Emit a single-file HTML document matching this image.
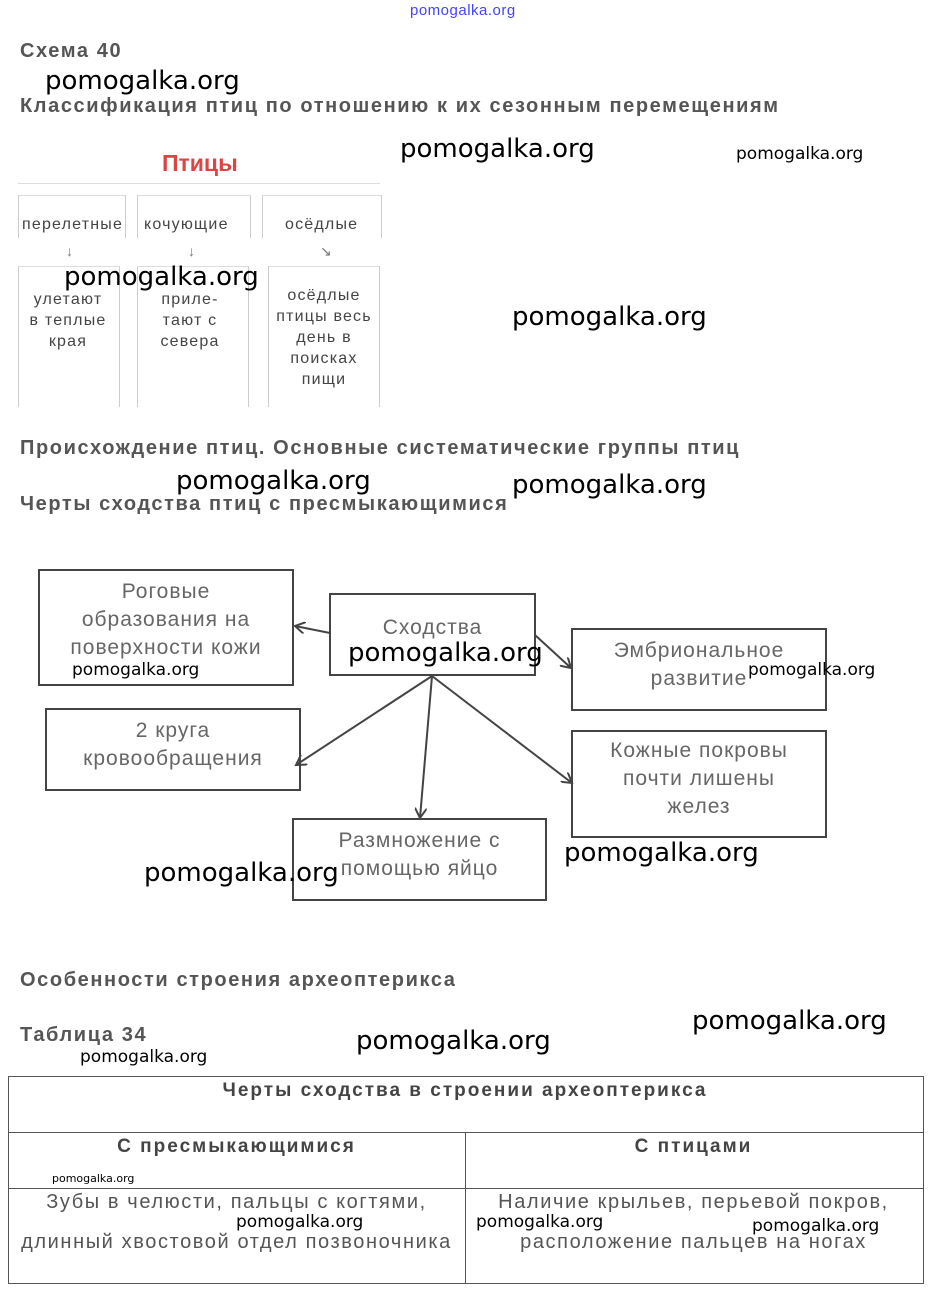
<!DOCTYPE html>
<html><head><meta charset="utf-8"><style>
body{margin:0;width:933px;height:1293px;background:#fff;position:relative;overflow:hidden;font-family:"Liberation Sans",sans-serif}
.a{position:absolute;white-space:nowrap}
.h{font-weight:bold;color:#555;font-size:20px;letter-spacing:1.6px}
.w{font-family:"DejaVu Sans","Liberation Sans",sans-serif;font-size:26px;color:#000;letter-spacing:0px}
.ws{font-family:"DejaVu Sans","Liberation Sans",sans-serif;font-size:17px;color:#000}
.b{position:absolute;border:2px solid #444;box-sizing:border-box;text-align:center;color:#666;font-size:21px;letter-spacing:1px;line-height:28px;display:flex;align-items:center;justify-content:center;padding-bottom:10px}
.t{color:#444;font-size:16px;letter-spacing:1.2px;text-align:center;line-height:21px}
.fl{position:absolute;border-left:1px solid #ccc;border-right:1px solid #ccc}
.th{font-weight:bold;color:#444;font-size:19px;letter-spacing:2px;text-align:center}
.td{color:#555;font-size:20px;letter-spacing:1.6px;line-height:20px;text-align:center}
</style></head><body>
<div class="a" style="left:410px;top:2px;font-size:15px;color:#44f;letter-spacing:0.5px">pomogalka.org</div>
<div class="a h" style="left:20px;top:40px">Схема 40</div>
<div class="a w" style="left:45px;top:66px">pomogalka.org</div>
<div class="a h" style="left:20px;top:95px">Классификация птиц по отношению к их сезонным перемещениям</div>
<div class="a w" style="left:400px;top:134px">pomogalka.org</div>
<div class="a ws" style="left:736px;top:144px">pomogalka.org</div>

<div class="a" style="left:162px;top:150px;font-size:23px;font-weight:bold;color:#d44">Птицы</div>
<div class="a" style="left:18px;top:183px;width:362px;border-top:1px solid #ddd"></div>
<div class="fl" style="left:18px;top:195px;width:106px;height:42px;border-top:1px solid #ddd"></div>
<div class="fl" style="left:137px;top:195px;width:112px;height:42px;border-top:1px solid #ddd"></div>
<div class="fl" style="left:262px;top:195px;width:118px;height:42px;border-top:1px solid #ddd"></div>
<div class="a t" style="left:22px;top:214px">перелетные</div>
<div class="a t" style="left:144px;top:214px">кочующие</div>
<div class="a t" style="left:285px;top:214px">осёдлые</div>
<div class="a" style="left:66px;top:243px;color:#777;font-size:14px">↓</div>
<div class="a" style="left:188px;top:243px;color:#777;font-size:14px">↓</div>
<div class="a" style="left:320px;top:243px;color:#777;font-size:14px">↘</div>
<div class="fl" style="left:18px;top:266px;width:100px;height:140px;border-top:1px solid #ddd"></div>
<div class="fl" style="left:137px;top:266px;width:110px;height:140px;border-top:1px solid #ddd"></div>
<div class="fl" style="left:268px;top:266px;width:110px;height:140px;border-top:1px solid #ddd"></div>
<div class="a t" style="left:20px;top:289px;width:96px">улетают<br>в теплые<br>края</div>
<div class="a t" style="left:140px;top:289px;width:100px">приле-<br>тают с<br>севера</div>
<div class="a t" style="left:268px;top:285px;width:112px">осёдлые<br>птицы весь<br>день в<br>поисках<br>пищи</div>
<div class="a w" style="left:64px;top:262px">pomogalka.org</div>
<div class="a w" style="left:512px;top:302px">pomogalka.org</div>

<div class="a h" style="left:20px;top:437px">Происхождение птиц. Основные систематические группы птиц</div>
<div class="a w" style="left:176px;top:466px">pomogalka.org</div>
<div class="a w" style="left:512px;top:470px">pomogalka.org</div>
<div class="a h" style="left:20px;top:493px">Черты сходства птиц с пресмыкающимися</div>

<svg class="a" style="left:0;top:0" width="933" height="1293">
<defs><marker id="m" markerWidth="12" markerHeight="12" refX="10" refY="6" orient="auto" markerUnits="userSpaceOnUse"><path d="M0,0 L10,6 L0,12" fill="none" stroke="#444" stroke-width="2"/></marker></defs>
<g stroke="#444" stroke-width="2" fill="none">
<line x1="330" y1="633" x2="295" y2="626" marker-end="url(#m)"/>
<line x1="535" y1="635" x2="571" y2="668" marker-end="url(#m)"/>
<line x1="432" y1="676" x2="296" y2="765" marker-end="url(#m)"/>
<line x1="432" y1="676" x2="420" y2="818" marker-end="url(#m)"/>
<line x1="432" y1="676" x2="572" y2="783" marker-end="url(#m)"/>
</g></svg>
<div class="b" style="left:38px;top:569px;width:256px;height:117px;padding-bottom:16px">Роговые<br>образования на<br>поверхности кожи</div>
<div class="b" style="left:329px;top:593px;width:207px;height:83px;padding-bottom:14px">Сходства</div>
<div class="b" style="left:571px;top:628px;width:256px;height:83px">Эмбриональное<br>развитие</div>
<div class="b" style="left:45px;top:708px;width:256px;height:83px">2 круга<br>кровообращения</div>
<div class="b" style="left:571px;top:730px;width:256px;height:108px">Кожные покровы<br>почти лишены<br>желез</div>
<div class="b" style="left:292px;top:818px;width:255px;height:83px">Размножение с<br>помощью яйцо</div>
<div class="a ws" style="left:72px;top:660px">pomogalka.org</div>
<div class="a w" style="left:348px;top:638px">pomogalka.org</div>
<div class="a ws" style="left:748px;top:660px">pomogalka.org</div>
<div class="a w" style="left:564px;top:838px">pomogalka.org</div>
<div class="a w" style="left:144px;top:858px">pomogalka.org</div>

<div class="a h" style="left:20px;top:969px">Особенности строения археоптерикса</div>
<div class="a h" style="left:20px;top:1024px">Таблица 34</div>
<div class="a w" style="left:692px;top:1006px">pomogalka.org</div>
<div class="a w" style="left:356px;top:1026px">pomogalka.org</div>
<div class="a ws" style="left:80px;top:1047px">pomogalka.org</div>

<div class="a" style="left:8px;top:1076px;width:914px;height:206px;border:1px solid #555"></div>
<div class="a" style="left:8px;top:1132px;width:915px;border-top:1px solid #555"></div>
<div class="a" style="left:8px;top:1188px;width:915px;border-top:1px solid #555"></div>
<div class="a" style="left:465px;top:1132px;height:151px;border-left:1px solid #555"></div>
<div class="a th" style="left:8px;top:1080px;width:914px">Черты сходства в строении археоптерикса</div>
<div class="a th" style="left:8px;top:1136px;width:457px">С пресмыкающимися</div>
<div class="a th" style="left:465px;top:1136px;width:457px">С птицами</div>
<div class="a td" style="left:8px;top:1192px;width:457px">Зубы в челюсти, пальцы с когтями,<br><br>длинный хвостовой отдел позвоночника</div>
<div class="a td" style="left:465px;top:1192px;width:457px">Наличие крыльев, перьевой покров,<br><br>расположение пальцев на ногах</div>
<div class="a" style="left:52px;top:1172px;font-size:11px;color:#000;font-family:'DejaVu Sans',sans-serif">pomogalka.org</div>
<div class="a ws" style="left:236px;top:1212px">pomogalka.org</div>
<div class="a ws" style="left:476px;top:1212px">pomogalka.org</div>
<div class="a ws" style="left:752px;top:1216px">pomogalka.org</div>
</body></html>
